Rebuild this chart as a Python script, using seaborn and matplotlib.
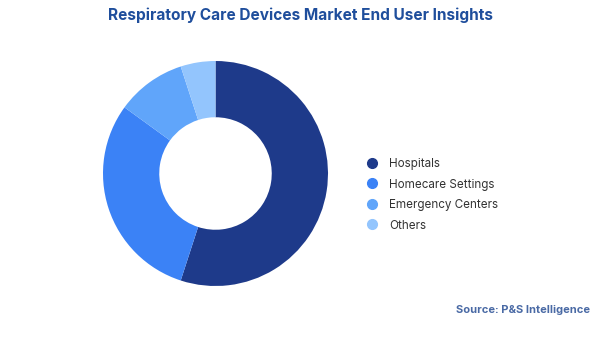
import matplotlib
matplotlib.use("Agg")
import matplotlib.pyplot as plt
from matplotlib.lines import Line2D
import seaborn as sns

# End-user share of the respiratory care devices market (%)
segments = ["Hospitals", "Homecare Settings", "Emergency Centers", "Others"]
shares = [55, 30, 10, 5]
colors = ["#1e3a8a", "#3b82f6", "#60a5fa", "#93c5fd"]

sns.set_theme(style="white")
plt.rcParams["font.family"] = ["Inter", "DejaVu Sans"]
palette = sns.color_palette(colors)

fig = plt.figure(figsize=(6, 3.37), dpi=100)
fig.patch.set_facecolor("white")

ax = fig.add_axes([103 / 600, (337 - 286) / 337, 225 / 600, 225 / 337])
ax.pie(shares, colors=palette, startangle=90, counterclock=False, radius=1,
       wedgeprops=dict(width=0.5, edgecolor="none"))
ax.set_xlim(-1, 1)
ax.set_ylim(-1, 1)
ax.set_aspect("equal")
ax.axis("off")

fig.text(0.5, 1 - 15 / 337, "Respiratory Care Devices Market End User Insights",
         ha="center", va="center", fontsize=11.1, fontweight="bold", color="#1f4e9c")

handles = [Line2D([0], [0], marker="o", linestyle="none", markersize=7,
                  markerfacecolor=c, markeredgecolor=c) for c in palette]
leg = fig.legend(handles, segments, loc="upper left",
                 bbox_to_anchor=(366 / 600, 1 - 158 / 337), frameon=False,
                 fontsize=8.4, handletextpad=0.97, labelspacing=0.73,
                 handlelength=1.0, borderpad=0, borderaxespad=0)
for t in leg.get_texts():
    t.set_color("#333333")

fig.text(1 - 10 / 600, 1 - 310 / 337, "Source: P&S Intelligence",
         ha="right", va="center", fontsize=8, fontweight="bold", color="#4a6aa5")

fig.savefig("out.png", dpi=100, facecolor="white")
